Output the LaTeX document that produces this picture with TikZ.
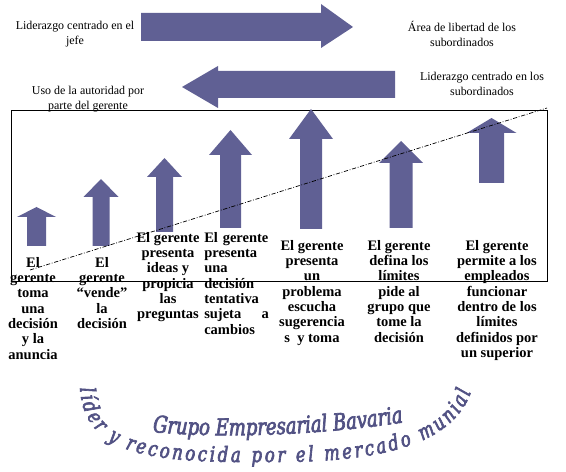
\documentclass[tikz,border=0pt]{standalone}
\usepackage{fontspec}
\setmainfont{Liberation Serif}
\newfontfamily\waserif{DejaVu Serif}[FakeStretch=0.78,FakeBold=3]
\usepackage{tikz}
\usetikzlibrary{positioning}
\usetikzlibrary{decorations.text}
\definecolor{arrowblue}{RGB}{96,96,148}
\definecolor{waviolet}{RGB}{82,82,132}
\tikzset{toptxt/.style={align=center,inner sep=0pt,font=\fontsize{8.5}{10.7}\selectfont}}
\tikzset{steptxt/.style={align=center,inner sep=0pt,anchor=north,font=\fontsize{10.3}{10.9}\selectfont\bfseries}}
\tikzset{blockarrow/.style={fill=arrowblue}}
\tikzset{trendline/.style={line width=0.5pt,dash pattern=on 3pt off 1.2pt on 0.6pt off 1.2pt}}
\newcommand{\wafont}{\waserif\itshape\fontsize{15}{15}\selectfont}
\newcommand{\wafontbig}{\waserif\itshape\fontsize{16.5}{16.5}\selectfont}
% vertical block arrow: x, tip y, head base y, bottom y, head half width, shaft half width
\newcommand{\VArrow}[6]{\fill[blockarrow] ({#1-#6},#4) -- ({#1-#6},#3) -- ({#1-#5},#3) -- (#1,#2) -- ({#1+#5},#3) -- ({#1+#6},#3) -- ({#1+#6},#4) -- cycle;}

\begin{document}
\begin{tikzpicture}[x=0.025cm,y=-0.025cm]
\useasboundingbox (0,0) rectangle (566,472);
% top arrows
\fill[blockarrow] (141,13) -- (321,13) -- (321,4) -- (353,27) -- (321,48) -- (321,41) -- (141,41) -- cycle;
\fill[blockarrow] (395,71) -- (218,71) -- (218,66) -- (182,87) -- (218,108) -- (218,98) -- (395,98) -- cycle;
%
\node (jefe) [toptxt] at (75,34.5) {Liderazgo centrado en el\\jefe};
\node (area) [toptxt] at (462,34) {Área de libertad de los\\subordinados};
\node (subs) [toptxt] at (482,84) {Liderazgo centrado en los\\subordinados};
\node (uso) [toptxt] at (88,99) {Uso de la autoridad por\\parte del gerente};
% box
\draw[line width=0.6pt] (11,110) rectangle (547,281);
% up arrows
\VArrow{36.5}{207}{217}{246}{19.5}{9.5}
\VArrow{101}{179}{197}{246}{17.5}{8.5}
\VArrow{164.5}{158}{177}{232}{17.5}{8.5}
\VArrow{230.5}{130}{155}{228}{21.5}{10.5}
\VArrow{311}{109}{139}{229}{22}{11}
\VArrow{401}{141}{163}{228}{22}{11.5}
\VArrow{491.5}{118}{133}{183}{25}{12.5}
%
\coordinate (t0) at (30,270);
\coordinate (t1) at (547,108);
\draw[trendline] (t0) -- (t1);
%
\node (s1) [steptxt] at (33,257) {El\\gerente\\toma\\una\\decisión\\y la\\anuncia};
\node (s2) [steptxt] at (102,257) {El\\gerente\\“vende”\\la\\decisión};
\node (s3) [steptxt] at (168,232) {El gerente\\presenta\\ideas y\\propicia\\las\\preguntas};
\node (s4) [steptxt,anchor=north west,align=left,text width=46pt] at (204,232) {El gerente\\presenta\\una\\decisión\\tentativa\\sujeta\hfill a\\cambios};
\node (s5) [steptxt] at (312,240) {El gerente\\presenta\\un\\problema\\escucha\\sugerencia\\s~~y toma};
\node (s6) [steptxt] at (399,240) {El gerente\\defina los\\límites\\pide al\\grupo que\\tome la\\decisión};
\node (s7) [steptxt] at (497,240) {El gerente\\permite a los\\empleados\\funcionar\\dentro de los\\límites\\definidos por\\un superior};
% word art
\path[decorate,decoration={text along path,text align=center,text color=waviolet,
  text={|\wafontbig|Grupo Empresarial Bavaria}}]
  (144,431) .. controls (210,439) and (320,436) .. (412,421);
\path[decorate,decoration={text along path,text align=fit to path,text color=waviolet,
  text={|\wafont|líder y reconocida por el mercado munial}}]
  (80,388) .. controls (84,455) and (150,463) .. (262,462) .. controls (360,463) and (450,452) .. (471,392);
\end{tikzpicture}
\end{document}
